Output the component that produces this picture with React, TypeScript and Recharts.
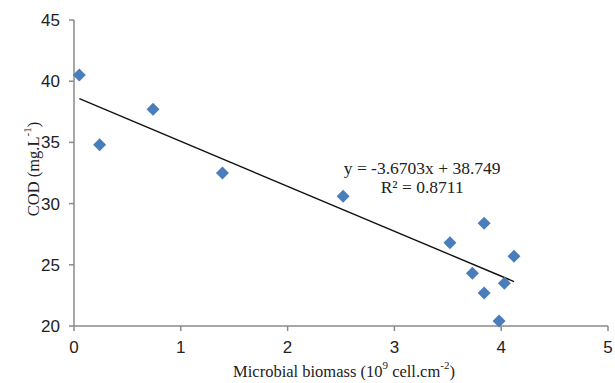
import React from 'react';
import { ScatterChart, Scatter, XAxis, YAxis, Label, ReferenceDot } from 'recharts';

const biomass = [0.05, 0.24, 0.74, 1.39, 2.52, 3.52, 3.84, 3.73, 4.12, 4.03, 3.84, 3.98];
const cod = [40.5, 34.8, 37.7, 32.5, 30.6, 26.8, 28.4, 24.3, 25.7, 23.5, 22.7, 20.4];
const trendX = [0.05, 4.12];
const trendY = [38.57, 23.63];
const xTicks = [0, 1, 2, 3, 4, 5];
const yTicks = [20, 25, 30, 35, 40, 45];
const equationText = 'y = -3.6703x + 38.749';
const r2Text = 'R² = 0.8711';

const points = biomass.map((x, i) => ({ x, y: cod[i] }));
const trend = trendX.map((x, i) => ({ x, y: trendY[i] }));

const AXIS = '#8a8a8a';
const SERIF = '"Liberation Serif", "Times New Roman", serif';
const SANS = '"Liberation Sans", Arial, sans-serif';

const Diamond = (props: any) => {
  const { cx, cy } = props;
  const h = 6.5;
  return (
    <polygon
      points={`${cx},${cy - h} ${cx + h},${cy} ${cx},${cy + h} ${cx - h},${cy}`}
      fill="#4A7EBB"
    />
  );
};

const YTitle = (props: any) => {
  const vb = props.viewBox;
  const cx = 33;
  const cy = vb.y + vb.height / 2 - 4;
  return (
    <text
      x={cx}
      y={cy}
      transform={`rotate(-90, ${cx}, ${cy})`}
      textAnchor="middle"
      dominantBaseline="central"
      fontFamily={SERIF}
      fontSize={16.5}
      fill="#222"
    >
      COD (mg.L<tspan fontSize={11} dy={-6}>-1</tspan><tspan dy={6}>)</tspan>
    </text>
  );
};

const XTitle = (props: any) => {
  const vb = props.viewBox;
  const cx = vb.x + vb.width / 2 + 3;
  const cy = 371;
  return (
    <text
      x={cx}
      y={cy}
      textAnchor="middle"
      dominantBaseline="central"
      fontFamily={SERIF}
      fontSize={16.5}
      fill="#222"
    >
      Microbial biomass (10<tspan fontSize={11} dy={-6}>9</tspan>
      <tspan dy={6}> cell.cm</tspan>
      <tspan fontSize={11} dy={-6}>-2</tspan>
      <tspan dy={6}>)</tspan>
    </text>
  );
};

const Equation = (props: any) => {
  const vb = props.viewBox;
  const cx = vb.x + (vb.width || 0) / 2;
  const cy = vb.y + (vb.height || 0) / 2;
  return (
    <g fontFamily={SERIF} fontSize={17.5} fill="#222">
      <text x={cx} y={cy - 9.5} textAnchor="middle" dominantBaseline="central">
        {equationText}
      </text>
      <text x={cx} y={cy + 9.5} textAnchor="middle" dominantBaseline="central">
        {r2Text}
      </text>
    </g>
  );
};

export default function App() {
  return (
    <div style={{ position: 'absolute', left: 0, top: 0, background: '#fff' }}>
      <ScatterChart
        width={615}
        height={383}
        margin={{ top: 20, right: 7, bottom: 27, left: 14 }}
      >
        <XAxis
          type="number"
          dataKey="x"
          domain={[0, 5]}
          ticks={xTicks}
          interval={0}
          height={30}
          axisLine={{ stroke: AXIS, strokeWidth: 1.5 }}
          tickLine={{ stroke: AXIS, strokeWidth: 1.5 }}
          tickSize={5}
          tickMargin={10}
          tick={{ fill: '#222', fontSize: 17, fontFamily: SANS }}
        >
          <Label content={XTitle} />
        </XAxis>
        <YAxis
          type="number"
          dataKey="y"
          domain={[20, 45]}
          ticks={yTicks}
          interval={0}
          width={60}
          axisLine={{ stroke: AXIS, strokeWidth: 1.5 }}
          tickLine={{ stroke: AXIS, strokeWidth: 1.5 }}
          tickSize={5}
          tickMargin={9}
          tick={{ fill: '#222', fontSize: 17, fontFamily: SANS }}
        >
          <Label content={YTitle} />
        </YAxis>
        <Scatter
          data={trend}
          line={{ stroke: '#111', strokeWidth: 1.4 }}
          shape={() => null}
          isAnimationActive={false}
        />
        <Scatter data={points} shape={Diamond} isAnimationActive={false} />
        <ReferenceDot x={3.26} y={32.1} r={0} fill="none" stroke="none" label={{ content: Equation }} />
      </ScatterChart>
    </div>
  );
}
